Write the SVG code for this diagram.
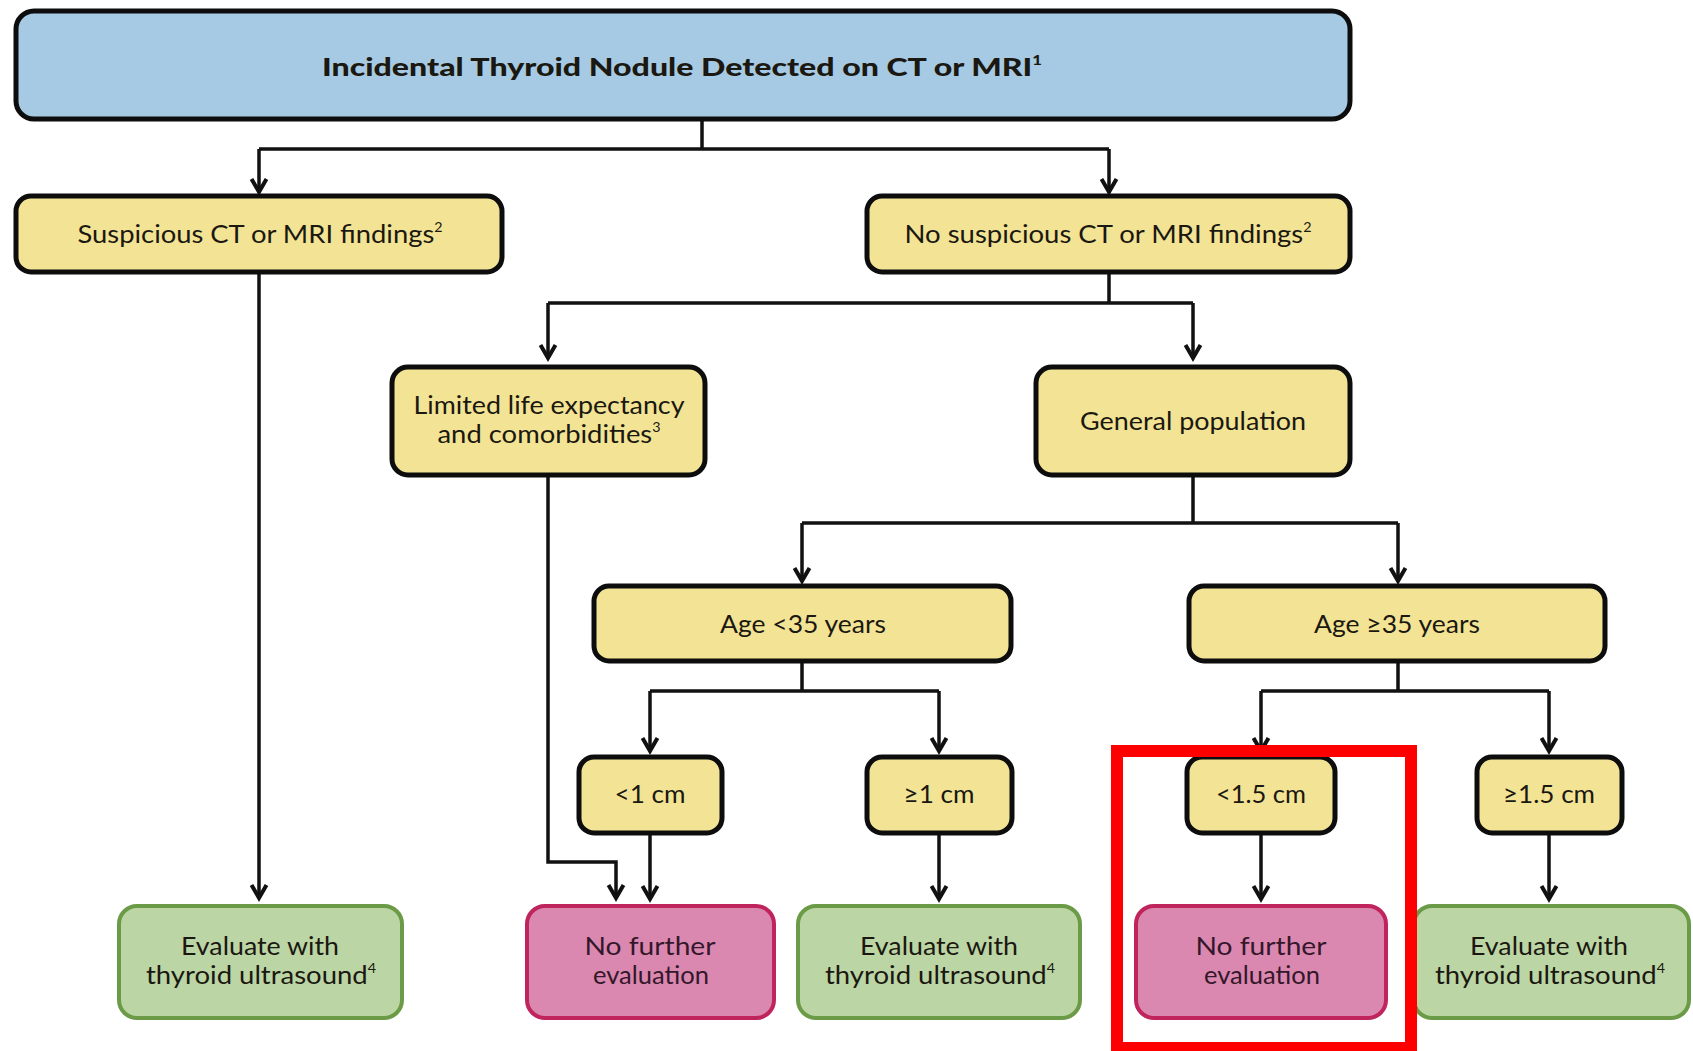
<svg xmlns="http://www.w3.org/2000/svg" width="1693" height="1051" viewBox="0 0 1693 1051">
<defs>
<style>
.t{font-family:Lato,"Open Sans","Liberation Sans",sans-serif;font-size:25px;fill:#1a1810;text-anchor:middle}
.tb{font-weight:900}
.tp{fill:#34172a}
.blue{fill:#a6cae4;stroke:#0d0d0d;stroke-width:5}
.yel{fill:#f3e395;stroke:#0d0d0d;stroke-width:5}
.grn{fill:#bcd5a5;stroke:#6b9b46;stroke-width:4}
.pnk{fill:#db88b0;stroke:#c0245c;stroke-width:4}
.c{fill:none;stroke:#111;stroke-width:3.5}
.a{marker-end:url(#arr)}
</style>
<marker id="arr" markerUnits="userSpaceOnUse" markerWidth="30" markerHeight="30" refX="0" refY="0" viewBox="-15 -15 30 30" orient="auto">
<path d="M-13,-7.5 L0,0 L-13,7.5" fill="none" stroke="#111" stroke-width="4" stroke-linejoin="miter"/>
</marker>
</defs>
<g id="connectors">
<path class="c" d="M702,119 V149 M259,149 H1109"/>
<path class="c a" d="M259,149 V192"/>
<path class="c a" d="M1109,149 V192"/>
<path class="c a" d="M259,272 V898"/>
<path class="c" d="M1109,272 V303 M548,303 H1193"/>
<path class="c a" d="M548,303 V358"/>
<path class="c a" d="M1193,303 V358"/>
<path class="c a" d="M548,475 V862 H616 V898"/>
<path class="c" d="M1193,475 V523 M802,523 H1398"/>
<path class="c a" d="M802,523 V581"/>
<path class="c a" d="M1398,523 V581"/>
<path class="c" d="M802,661 V691 M650,691 H939"/>
<path class="c a" d="M650,691 V751"/>
<path class="c a" d="M939,691 V751"/>
<path class="c" d="M1398,661 V691 M1261,691 H1549"/>
<path class="c a" d="M1261,691 V751"/>
<path class="c a" d="M1549,691 V751"/>
<path class="c a" d="M650,833 V899"/>
<path class="c a" d="M939,833 V899"/>
<path class="c a" d="M1261,833 V899"/>
<path class="c a" d="M1549,833 V899"/>
</g>
<g id="n-top"><rect class="blue" x="16" y="11" width="1334" height="108" rx="18"/>
<text class="t tb" x="682" y="76" textLength="720" lengthAdjust="spacingAndGlyphs">Incidental Thyroid Nodule Detected on CT or MRI<tspan font-size="13" dy="-11">1</tspan></text></g>
<g id="n-susp"><rect class="yel" x="16" y="196" width="486" height="76" rx="15"/>
<text class="t" x="260" y="243" textLength="365" lengthAdjust="spacingAndGlyphs">Suspicious CT or MRI findings<tspan font-size="13" dy="-11">2</tspan></text></g>
<g id="n-nosusp"><rect class="yel" x="867" y="196" width="483" height="76" rx="15"/>
<text class="t" x="1108" y="243" textLength="407" lengthAdjust="spacingAndGlyphs">No suspicious CT or MRI findings<tspan font-size="13" dy="-11">2</tspan></text></g>
<g id="n-limited"><rect class="yel" x="392" y="367" width="313" height="108" rx="16"/>
<text class="t" x="549" y="414" textLength="271" lengthAdjust="spacingAndGlyphs">Limited life expectancy</text>
<text class="t" x="549" y="443" textLength="223" lengthAdjust="spacingAndGlyphs">and comorbidities<tspan font-size="13" dy="-11">3</tspan></text></g>
<g id="n-general"><rect class="yel" x="1036" y="367" width="314" height="108" rx="16"/>
<text class="t" x="1193" y="430" textLength="226" lengthAdjust="spacingAndGlyphs">General population</text></g>
<g id="n-age-lt35"><rect class="yel" x="594" y="586" width="417" height="75" rx="15"/>
<text class="t" x="803" y="633" textLength="166" lengthAdjust="spacingAndGlyphs">Age &lt;35 years</text></g>
<g id="n-age-ge35"><rect class="yel" x="1189" y="586" width="416" height="75" rx="15"/>
<text class="t" x="1397" y="633" textLength="166" lengthAdjust="spacingAndGlyphs">Age ≥35 years</text></g>
<g id="n-lt1"><rect class="yel" x="579" y="757" width="143" height="76" rx="15"/>
<text class="t" x="650" y="803" textLength="71" lengthAdjust="spacingAndGlyphs">&lt;1 cm</text></g>
<g id="n-ge1"><rect class="yel" x="867" y="757" width="145" height="76" rx="15"/>
<text class="t" x="939" y="803" textLength="71" lengthAdjust="spacingAndGlyphs">≥1 cm</text></g>
<g id="n-lt15"><rect class="yel" x="1187" y="757" width="148" height="76" rx="15"/>
<text class="t" x="1261" y="803" textLength="90" lengthAdjust="spacingAndGlyphs">&lt;1.5 cm</text></g>
<g id="n-ge15"><rect class="yel" x="1477" y="757" width="145" height="76" rx="15"/>
<text class="t" x="1549" y="803" textLength="92" lengthAdjust="spacingAndGlyphs">≥1.5 cm</text></g>
<g id="n-eval1"><rect class="grn" x="119" y="906" width="283" height="112" rx="18"/>
<text class="t" x="260" y="955" textLength="158" lengthAdjust="spacingAndGlyphs">Evaluate with</text>
<text class="t" x="261" y="984" textLength="230" lengthAdjust="spacingAndGlyphs">thyroid ultrasound<tspan font-size="13" dy="-11">4</tspan></text></g>
<g id="n-nofurther1"><rect class="pnk" x="527" y="906" width="247" height="112" rx="18"/>
<text class="t tp" x="650" y="955" textLength="131" lengthAdjust="spacingAndGlyphs">No further</text>
<text class="t tp" x="651" y="984" textLength="116" lengthAdjust="spacingAndGlyphs">evaluation</text></g>
<g id="n-eval2"><rect class="grn" x="798" y="906" width="282" height="112" rx="18"/>
<text class="t" x="939" y="955" textLength="158" lengthAdjust="spacingAndGlyphs">Evaluate with</text>
<text class="t" x="940" y="984" textLength="230" lengthAdjust="spacingAndGlyphs">thyroid ultrasound<tspan font-size="13" dy="-11">4</tspan></text></g>
<g id="n-nofurther2"><rect class="pnk" x="1136" y="906" width="250" height="112" rx="18"/>
<text class="t tp" x="1261" y="955" textLength="131" lengthAdjust="spacingAndGlyphs">No further</text>
<text class="t tp" x="1262" y="984" textLength="116" lengthAdjust="spacingAndGlyphs">evaluation</text></g>
<g id="n-eval3"><rect class="grn" x="1414" y="906" width="275" height="112" rx="18"/>
<text class="t" x="1549" y="955" textLength="158" lengthAdjust="spacingAndGlyphs">Evaluate with</text>
<text class="t" x="1550" y="984" textLength="230" lengthAdjust="spacingAndGlyphs">thyroid ultrasound<tspan font-size="13" dy="-11">4</tspan></text></g>
<rect id="highlight" x="1117" y="751" width="294" height="297" fill="none" stroke="#ff0000" stroke-width="12"/>
</svg>
